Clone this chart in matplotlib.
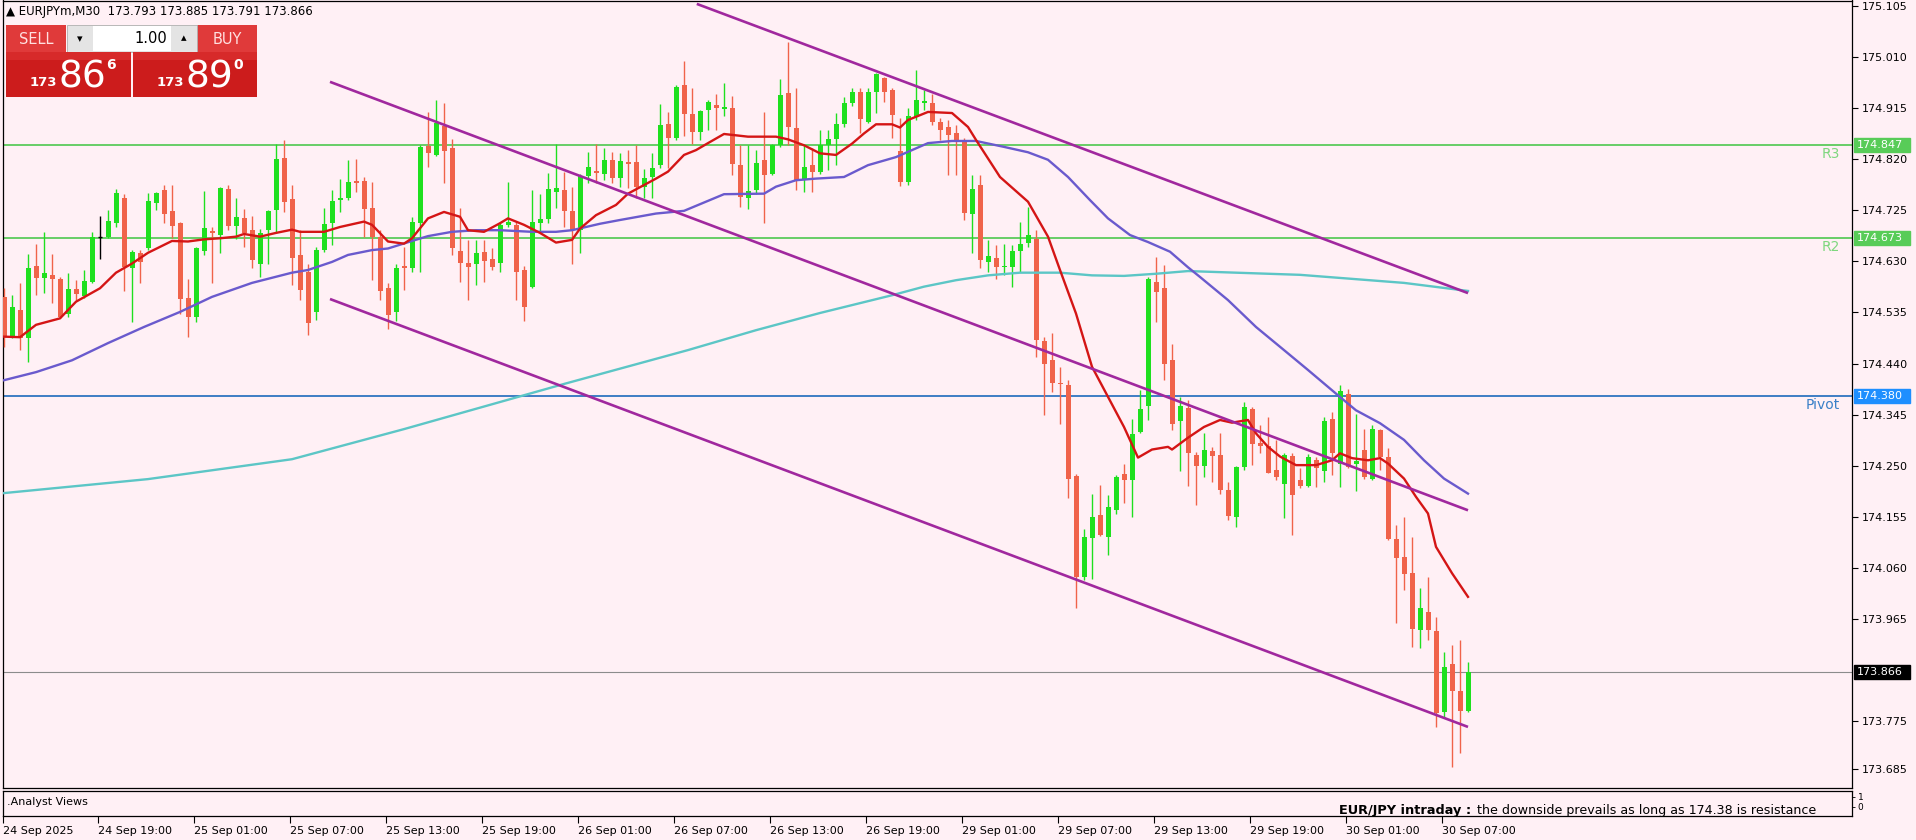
import matplotlib
matplotlib.use("Agg")
import matplotlib.pyplot as plt
from matplotlib.patches import Rectangle
from matplotlib.transforms import blended_transform_factory

# ---------------- data ----------------
symbol = "EURJPYm,M30"

opens = [174.564, 174.490, 174.540, 174.487, 174.622, 174.600, 174.605, 174.598, 174.533, 174.578,
         174.565, 174.592, 174.676, 174.676, 174.701, 174.748, 174.617, 174.646, 174.654, 174.738,
         174.763, 174.724, 174.702, 174.562, 174.527, 174.649, 174.686, 174.679, 174.764, 174.696,
         174.710, 174.688, 174.626, 174.689, 174.725, 174.822, 174.746, 174.642, 174.610, 174.536,
         174.651, 174.701, 174.745, 174.748, 174.779, 174.779, 174.729, 174.676, 174.580, 174.535,
         174.621, 174.617, 174.701, 174.844, 174.828, 174.882, 174.841, 174.649, 174.627, 174.626,
         174.648, 174.634, 174.627, 174.697, 174.697, 174.614, 174.583, 174.702, 174.708, 174.759,
         174.763, 174.724, 174.688, 174.789, 174.799, 174.793, 174.818, 174.785, 174.815, 174.815,
         174.769, 174.787, 174.809, 174.886, 174.860, 174.958, 174.905, 174.871, 174.911, 174.920,
         174.914, 174.916, 174.809, 174.747, 174.762, 174.819, 174.793, 174.846, 174.944, 174.879,
         174.781, 174.809, 174.797, 174.846, 174.857, 174.886, 174.924, 174.945, 174.889, 174.945,
         174.971, 174.948, 174.835, 174.778, 174.899, 174.925, 174.925, 174.889, 174.880, 174.869,
         174.852, 174.719, 174.772, 174.629, 174.637, 174.619, 174.619, 174.650, 174.664, 174.672,
         174.482, 174.446, 174.404, 174.400, 174.230, 174.043, 174.116, 174.158, 174.118, 174.167,
         174.234, 174.223, 174.313, 174.361, 174.592, 174.581, 174.446, 174.333, 174.358, 174.270,
         174.250, 174.278, 174.270, 174.205, 174.155, 174.248, 174.355, 174.293, 174.287, 174.242,
         174.215, 174.268, 174.224, 174.212, 174.260, 174.240, 174.336, 174.254, 174.384, 174.254,
         174.279, 174.226, 174.316, 174.267, 174.113, 174.081, 174.050, 173.944, 173.978, 173.943,
         173.792, 173.881, 173.830, 173.793]
highs = [174.580, 174.567, 174.589, 174.644, 174.662, 174.685, 174.644, 174.601, 174.608, 174.596,
         174.614, 174.685, 174.714, 174.725, 174.764, 174.756, 174.651, 174.651, 174.758, 174.760,
         174.772, 174.772, 174.704, 174.598, 174.657, 174.761, 174.694, 174.768, 174.772, 174.747,
         174.728, 174.714, 174.690, 174.725, 174.848, 174.856, 174.772, 174.688, 174.625, 174.657,
         174.729, 174.763, 174.784, 174.818, 174.820, 174.787, 174.778, 174.688, 174.590, 174.625,
         174.657, 174.713, 174.846, 174.908, 174.931, 174.924, 174.857, 174.729, 174.670, 174.670,
         174.670, 174.654, 174.701, 174.778, 174.704, 174.622, 174.763, 174.755, 174.794, 174.848,
         174.797, 174.769, 174.792, 174.834, 174.848, 174.840, 174.834, 174.831, 174.837, 174.846,
         174.801, 174.831, 174.922, 174.908, 174.958, 175.003, 174.952, 174.912, 174.930, 174.942,
         174.961, 174.937, 174.846, 174.846, 174.838, 174.908, 174.849, 174.970, 175.038, 174.952,
         174.846, 174.840, 174.874, 174.875, 174.906, 174.936, 174.952, 174.952, 174.952, 174.981,
         174.973, 174.952, 174.897, 174.915, 174.986, 174.949, 174.941, 174.897, 174.893, 174.884,
         174.860, 174.790, 174.790, 174.669, 174.660, 174.663, 174.660, 174.703, 174.731, 174.688,
         174.490, 174.496, 174.434, 174.410, 174.234, 174.133, 174.198, 174.214, 174.195, 174.232,
         174.253, 174.336, 174.390, 174.601, 174.638, 174.623, 174.477, 174.378, 174.373, 174.276,
         174.310, 174.285, 174.310, 174.220, 174.250, 174.369, 174.360, 174.326, 174.341, 174.298,
         174.274, 174.273, 174.245, 174.272, 174.267, 174.341, 174.350, 174.400, 174.392, 174.347,
         174.319, 174.325, 174.319, 174.282, 174.140, 174.155, 174.118, 174.022, 174.043, 173.969,
         173.904, 173.916, 173.926, 173.885]
lows = [174.471, 174.487, 174.465, 174.443, 174.567, 174.572, 174.552, 174.524, 174.527, 174.558,
        174.561, 174.590, 174.634, 174.673, 174.694, 174.575, 174.518, 174.589, 174.651, 174.725,
        174.701, 174.673, 174.533, 174.490, 174.518, 174.642, 174.590, 174.646, 174.688, 174.671,
        174.657, 174.618, 174.601, 174.626, 174.683, 174.722, 174.586, 174.558, 174.493, 174.521,
        174.648, 174.660, 174.722, 174.744, 174.759, 174.676, 174.595, 174.558, 174.505, 174.520,
        174.577, 174.611, 174.611, 174.805, 174.826, 174.775, 174.642, 174.592, 174.558, 174.586,
        174.592, 174.614, 174.611, 174.694, 174.558, 174.520, 174.580, 174.685, 174.701, 174.729,
        174.694, 174.626, 174.645, 174.775, 174.775, 174.781, 174.775, 174.769, 174.766, 174.747,
        174.747, 174.747, 174.803, 174.803, 174.855, 174.863, 174.849, 174.855, 174.874, 174.874,
        174.900, 174.790, 174.731, 174.728, 174.756, 174.702, 174.790, 174.843, 174.846, 174.762,
        174.759, 174.759, 174.793, 174.800, 174.809, 174.880, 174.919, 174.868, 174.888, 174.906,
        174.927, 174.859, 174.770, 174.772, 174.893, 174.912, 174.884, 174.856, 174.791, 174.791,
        174.707, 174.645, 174.617, 174.611, 174.598, 174.604, 174.583, 174.611, 174.657, 174.452,
        174.344, 174.387, 174.328, 174.189, 173.985, 174.037, 174.040, 174.119, 174.083, 174.161,
        174.181, 174.154, 174.310, 174.335, 174.517, 174.410, 174.316, 174.240, 174.212, 174.176,
        174.229, 174.220, 174.198, 174.149, 174.136, 174.242, 174.251, 174.273, 174.236, 174.223,
        174.152, 174.121, 174.208, 174.211, 174.211, 174.220, 174.233, 174.211, 174.245, 174.202,
        174.226, 174.224, 174.242, 174.112, 173.957, 174.019, 173.913, 173.910, 173.926, 173.764,
        173.783, 173.690, 173.715, 173.791]
closes = [174.490, 174.546, 174.488, 174.617, 174.600, 174.609, 174.597, 174.527, 174.578, 174.570,
          174.594, 174.676, 174.676, 174.705, 174.758, 174.620, 174.647, 174.629, 174.742, 174.757,
          174.719, 174.696, 174.560, 174.527, 174.654, 174.693, 174.683, 174.766, 174.696, 174.713,
          174.682, 174.632, 174.683, 174.724, 174.820, 174.741, 174.636, 174.577, 174.515, 174.651,
          174.699, 174.743, 174.748, 174.777, 174.775, 174.727, 174.676, 174.574, 174.530, 174.617,
          174.618, 174.704, 174.842, 174.831, 174.888, 174.836, 174.654, 174.627, 174.620, 174.646,
          174.631, 174.620, 174.697, 174.704, 174.611, 174.545, 174.704, 174.708, 174.764, 174.767,
          174.724, 174.688, 174.789, 174.805, 174.795, 174.818, 174.785, 174.817, 174.811, 174.769,
          174.785, 174.804, 174.883, 174.860, 174.955, 174.904, 174.871, 174.909, 174.927, 174.916,
          174.917, 174.811, 174.750, 174.761, 174.813, 174.790, 174.846, 174.939, 174.880, 174.781,
          174.806, 174.797, 174.846, 174.857, 174.886, 174.925, 174.945, 174.894, 174.945, 174.979,
          174.945, 174.902, 174.778, 174.900, 174.930, 174.929, 174.889, 174.874, 174.865, 174.856,
          174.720, 174.765, 174.632, 174.640, 174.619, 174.621, 174.650, 174.663, 174.679, 174.483,
          174.440, 174.404, 174.402, 174.226, 174.043, 174.118, 174.155, 174.121, 174.173, 174.229,
          174.224, 174.309, 174.356, 174.598, 174.573, 174.440, 174.328, 174.361, 174.274, 174.249,
          174.279, 174.268, 174.205, 174.156, 174.248, 174.360, 174.291, 174.287, 174.237, 174.229,
          174.270, 174.195, 174.212, 174.267, 174.245, 174.333, 174.273, 174.388, 174.248, 174.258,
          174.229, 174.319, 174.267, 174.113, 174.079, 174.048, 173.947, 173.985, 173.944, 173.789,
          173.876, 173.831, 173.794, 173.866]

# moving averages read at sample bars
fast_ma_bars = [0, 2, 4, 7, 9, 12, 14, 16, 18, 21, 23, 25, 27, 29, 30, 32, 34, 36, 37, 40, 42, 45, 46, 48,
                50, 51, 53, 55, 57, 58, 60, 62, 63, 65, 67, 69, 71, 72, 74, 76.5, 78, 80, 81.5, 83, 85,
                86.5, 88, 90, 93, 96.5, 98, 100, 102, 104, 106, 107.5, 109, 111, 112, 113, 115.5, 118.5,
                120.5, 121.5, 124.5, 128, 130.5, 132, 134, 136, 138, 140, 141.75, 143.5, 145.5, 146, 148,
                150, 152, 153.5, 155.5, 156.5, 158, 159.5, 161.5, 164, 166, 167, 168.5, 170.5, 172, 173,
                175, 176.5, 178, 179, 181, 183]
fast_ma_vals = [174.490, 174.489, 174.512, 174.524, 174.555, 174.580, 174.609, 174.626, 174.646, 174.668,
                174.667, 174.671, 174.673, 174.676, 174.681, 174.676, 174.683, 174.689, 174.685, 174.685,
                174.694, 174.704, 174.698, 174.667, 174.663, 174.673, 174.710, 174.722, 174.713, 174.688,
                174.685, 174.701, 174.710, 174.698, 174.683, 174.665, 174.670, 174.691, 174.716, 174.735,
                174.756, 174.772, 174.784, 174.797, 174.828, 174.837, 174.850, 174.867, 174.862, 174.862,
                174.857, 174.846, 174.831, 174.828, 174.849, 174.868, 174.885, 174.885, 174.879, 174.893,
                174.908, 174.906, 174.880, 174.856, 174.787, 174.741, 174.676, 174.614, 174.533, 174.434,
                174.378, 174.322, 174.265, 174.280, 174.285, 174.280, 174.302, 174.322, 174.335, 174.330,
                174.335, 174.310, 174.285, 174.267, 174.251, 174.251, 174.260, 174.273, 174.264, 174.260,
                174.264, 174.254, 174.226, 174.192, 174.161, 174.099, 174.050, 174.006]
mid_ma_bars = [0, 4, 8.5, 13, 17.5, 22, 26, 31, 36, 38, 41, 43, 46, 48, 51, 53, 56, 59, 62, 66, 69, 71,
               74.5, 77, 81.5, 85, 90, 95, 96.5, 99, 101.5, 105, 108, 111.5, 115.5, 118.5, 121.5, 125,
               128, 130.5, 133, 135.75, 138, 140.75, 143, 145.75, 148, 149.5, 153, 156.5, 160, 163,
               166.5, 169, 172, 175, 177.5, 180, 183]
mid_ma_vals = [174.409, 174.424, 174.446, 174.478, 174.508, 174.536, 174.564, 174.590, 174.609, 174.614,
               174.629, 174.642, 174.651, 174.654, 174.668, 174.677, 174.685, 174.688, 174.688, 174.685,
               174.685, 174.688, 174.700, 174.707, 174.719, 174.724, 174.755, 174.756, 174.769, 174.781,
               174.784, 174.787, 174.809, 174.824, 174.850, 174.854, 174.854, 174.843, 174.833, 174.819,
               174.787, 174.744, 174.710, 174.679, 174.666, 174.648, 174.619, 174.601, 174.558, 174.508,
               174.465, 174.428, 174.384, 174.353, 174.329, 174.298, 174.260, 174.226, 174.198]
slow_ma_bars = [0, 18, 36, 50, 60, 70, 85.5, 94, 102, 111, 115, 119, 123, 127, 132, 136, 140, 144, 148,
                162, 175, 183]
slow_ma_vals = [174.199, 174.225, 174.262, 174.318, 174.360, 174.402, 174.465, 174.502, 174.534, 174.567,
                174.583, 174.595, 174.604, 174.609, 174.609, 174.604, 174.603, 174.607, 174.612, 174.605,
                174.590, 174.575]

# channel trend lines (start/end bar, start/end price)
upper_line_bars = [86.6, 183.0]
upper_line_prices = [175.109, 174.571]
middle_line_bars = [40.75, 183.0]
middle_line_prices = [174.964, 174.167]
lower_line_bars = [40.75, 183.0]
lower_line_prices = [174.560, 173.764]

level_names = ["R3", "R2", "Pivot"]
level_values = [174.847, 174.673, 174.380]
level_colors = ["#5ccb5c", "#5ccb5c", "#2f74c0"]
level_box_colors = ["#58cc58", "#58cc58", "#1e8fff"]
level_text_colors = ["#7fd77f", "#7fd77f", "#3a80c8"]

bid = 173.866
ask = 173.890
lot_size = 1.00

price_ticks = [175.105, 175.010, 174.915, 174.820, 174.725, 174.630, 174.535, 174.440, 174.345,
               174.250, 174.155, 174.060, 173.965, 173.775, 173.685]
time_tick_bars = [-0.125, 11.75, 23.75, 35.75, 47.75, 59.75, 71.75, 83.75, 95.75, 107.75,
                  119.75, 131.75, 143.75, 155.75, 167.75, 179.75]
time_tick_labels = ["24 Sep 2025", "24 Sep 19:00", "25 Sep 01:00", "25 Sep 07:00", "25 Sep 13:00",
                    "25 Sep 19:00", "26 Sep 01:00", "26 Sep 07:00", "26 Sep 13:00", "26 Sep 19:00",
                    "29 Sep 01:00", "29 Sep 07:00", "29 Sep 13:00", "29 Sep 19:00", "30 Sep 01:00",
                    "30 Sep 07:00"]

indicator_name = ".Analyst Views"
view_title = "EUR/JPY intraday :"
view_text = "the downside prevails as long as 174.38 is resistance"

# ---------------- style / layout ----------------
W, H = 1916, 840
BG = "#fff0f5"
BULL = "#1fe01f"
BEAR = "#f0634a"
FONT = "DejaVu Sans"
plt.rcParams["font.family"] = [FONT]

fig = plt.figure(figsize=(W / 100, H / 100), dpi=100, facecolor=BG)

x_left, x_right = 3, 1852
y_top, y_main_bottom = 0.5, 788
ax = fig.add_axes([x_left / W, 1 - y_main_bottom / H, (x_right - x_left) / W, (y_main_bottom - y_top) / H])
ax.set_facecolor(BG)
ax.set_xlim(-0.125, 231.0)
ax.set_ylim(173.6504, 175.1153)
for s in ax.spines.values():
    s.set_color("black")
    s.set_linewidth(0.9)

# horizontal levels
for nm, v, c, tc in zip(level_names, level_values, level_colors, level_text_colors):
    ax.axhline(v, color=c, lw=1.3, zorder=2)
    ax.text(0.9937, v - 0.004, nm, transform=blended_transform_factory(ax.transAxes, ax.transData),
            ha="right", va="top", fontsize=10, color=tc, zorder=6)
ax.axhline(bid, color="#8c8c8c", lw=0.8, zorder=2)

# candles
n = len(opens)
for i in range(n):
    o, h, l, c = opens[i], highs[i], lows[i], closes[i]
    if c > o:
        col = BULL
    elif c < o:
        col = BEAR
    else:
        col = "black"
    ax.vlines(i, l, h, color=col, lw=1.0, zorder=3)
    if c == o:
        ax.hlines(o, i - 0.3, i + 0.3, color=col, lw=1.0, zorder=3)
    else:
        ax.bar(i, abs(c - o), bottom=min(o, c), width=0.625, color=col, lw=0, zorder=3)

# moving averages
ax.plot(slow_ma_bars, slow_ma_vals, color="#5cc6c6", lw=1.7, zorder=4)
ax.plot(mid_ma_bars, mid_ma_vals, color="#6a5acd", lw=1.7, zorder=4)
ax.plot(fast_ma_bars, fast_ma_vals, color="#d41515", lw=1.7, zorder=4)

# channel
for bx, py in ((upper_line_bars, upper_line_prices), (middle_line_bars, middle_line_prices),
               (lower_line_bars, lower_line_prices)):
    ax.plot(bx, py, color="#a0289e", lw=1.9, zorder=5, solid_capstyle="butt")

# right price axis
ax.yaxis.tick_right()
ax.set_yticks(price_ticks)
ax.set_yticklabels([f"{p:.3f}" for p in price_ticks])
ax.tick_params(axis="y", direction="out", length=4, width=0.8, pad=3, labelsize=8, colors="black")
ax.set_xticks([])

tr = blended_transform_factory(ax.transAxes, ax.transData)
box_w = 56 / (x_right - x_left)
box_h = 14 / 537.6
for v, bc in list(zip(level_values, level_box_colors)) + [(bid, "black")]:
    ax.add_patch(Rectangle((1.0011, v - box_h / 2), box_w, box_h, transform=tr, color=bc,
                           clip_on=False, zorder=7))
    ax.text(1.0027, v, f"{v:.3f}", transform=tr, ha="left", va="center", fontsize=8,
            color="white", clip_on=False, zorder=8)

# sub window
ax2 = fig.add_axes([x_left / W, 1 - 816 / H, (x_right - x_left) / W, 25 / H])
ax2.set_facecolor(BG)
ax2.set_xlim(-0.125, 231.0)
ax2.set_ylim(-0.9, 1.6)
for s in ax2.spines.values():
    s.set_color("black")
    s.set_linewidth(0.9)
ax2.yaxis.tick_right()
ax2.set_yticks([0, 1])
ax2.set_yticklabels(["0", "1"])
ax2.tick_params(axis="y", direction="out", length=2, width=0.6, pad=2, labelsize=6.5)
ax2.set_xticks(time_tick_bars)
ax2.set_xticklabels(time_tick_labels, ha="left")
ax2.tick_params(axis="x", direction="out", length=5, width=0.8, pad=2, labelsize=8)
ax2.text(0.002, 0.56, indicator_name, transform=ax2.transAxes, ha="left", va="center", fontsize=8)
ax2.text(0.7225, 0.22, view_title, transform=ax2.transAxes, ha="left", va="center", fontsize=9.3,
         fontweight="bold")
ax2.text(0.7972, 0.22, view_text, transform=ax2.transAxes, ha="left", va="center", fontsize=9.1)

# ---------------- one-click trading panel (pixel overlay) ----------------
ov = fig.add_axes([0, 0, 1, 1], zorder=20)
ov.set_xlim(0, W)
ov.set_ylim(H, 0)
ov.axis("off")
ov.patch.set_alpha(0)

ov.text(6, 11, f"\u25b2 {symbol}  {opens[-1]:.3f} {highs[-1]:.3f} {lows[-1]:.3f} {closes[-1]:.3f}",
        ha="left", va="center", fontsize=8.5, color="black")

def rect(x0, y0, x1, y1, col, ec="none"):
    ov.add_patch(Rectangle((x0, y0), x1 - x0, y1 - y0, facecolor=col, edgecolor=ec, lw=0.6))

rect(6, 25, 66, 52, "#e03a3a")
rect(197, 25, 257, 52, "#e03a3a")
rect(67, 25, 197, 52, "#e4e4e4", "#b0b0b0")
rect(93, 26, 171, 51, "white")
rect(6, 52, 131, 97, "#cc1c1c")
rect(133, 52, 257, 97, "#cc1c1c")
rect(6, 52, 131, 60, "#d72a2a")
rect(133, 52, 257, 60, "#d72a2a")
ov.text(36, 39, "SELL", ha="center", va="center", fontsize=10.5, color="#ffe0e0")
ov.text(227, 39, "BUY", ha="center", va="center", fontsize=10.5, color="#ffe0e0")
ov.text(80, 39, "\u25be", ha="center", va="center", fontsize=8, color="black")
ov.text(184, 38, "\u25b4", ha="center", va="center", fontsize=8, color="black")
ov.text(167, 38.5, f"{lot_size:.2f}", ha="right", va="center", fontsize=10.5, color="black")

for val, x0 in ((bid, 30), (ask, 157)):
    s = f"{val:.3f}"
    ov.text(x0, 83, s[:3], ha="left", va="center", fontsize=9.5, fontweight="bold", color="white")
    ov.text(x0 + 29, 77, s[4:6], ha="left", va="center", fontsize=27, color="white")
    ov.text(x0 + 76, 65, s[6], ha="left", va="center", fontsize=10, fontweight="bold", color="white")

fig.savefig("out.png", dpi=100, facecolor=BG)
